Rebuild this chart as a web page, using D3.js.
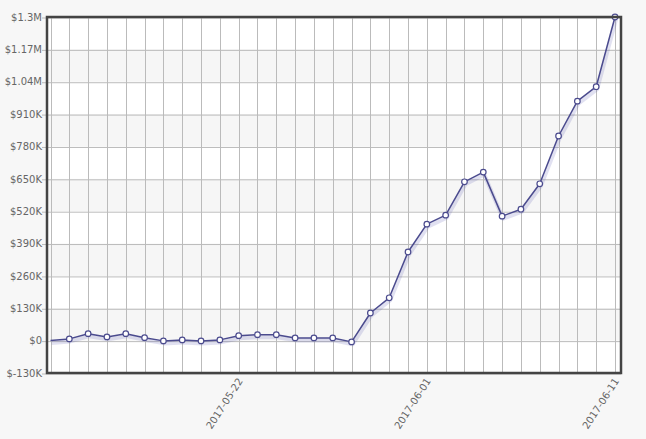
<!DOCTYPE html>
<html><head><meta charset="utf-8">
<script src="https://cdn.jsdelivr.net/npm/d3@7"></script>
<style>
html,body{margin:0;padding:0;background:#f7f7f7;}
svg{display:block;}
</style></head>
<body>
<script>
const startDate = "2017-05-12";
const values = [1000, 7000, 28000, 15000, 28000, 12000, -1000, 3000, -1000, 3000, 20000, 24000, 24000, 11000, 11000, 11000, -5000, 111000, 172000, 356000, 468000, 504000, 638000, 677000, 500000, 528000, 630000, 822000, 962000, 1020000, 1300000];
const yTicks = [-130000, 0, 130000, 260000, 390000, 520000, 650000, 780000, 910000, 1040000, 1170000, 1300000];
const yTickLabels = ["$-130K", "$0", "$130K", "$260K", "$390K", "$520K", "$650K", "$780K", "$910K", "$1.04M", "$1.17M", "$1.3M"];
const xTickLabels = ["2017-05-22", "2017-06-01", "2017-06-11"];

const W = 646, H = 439;
const plot = {left: 47, right: 621, top: 17, bottom: 373};
const parse = d3.timeParse("%Y-%m-%d");
const fmt = d3.timeFormat("%Y-%m-%d");
const t0 = parse(startDate);
const data = values.map((v, i) => ({date: d3.timeDay.offset(t0, i), v}));

const x = d3.scaleTime()
  .domain([data[0].date, data[data.length - 1].date])
  .range([plot.left + 3.5, plot.right - 6]);
const y = d3.scaleLinear()
  .domain([yTicks[0], yTicks[yTicks.length - 1]])
  .range([plot.bottom, plot.top]);

const svg = d3.select("body").append("svg").attr("width", W).attr("height", H);

svg.append("rect").attr("x", plot.left).attr("y", plot.top)
  .attr("width", plot.right - plot.left).attr("height", plot.bottom - plot.top)
  .attr("fill", "#fff");

// alternating bands
for (let i = 0; i < yTicks.length - 1; i++) {
  if (i % 2 === 1) {
    svg.append("rect").attr("x", plot.left).attr("width", plot.right - plot.left)
      .attr("y", y(yTicks[i + 1])).attr("height", y(yTicks[i]) - y(yTicks[i + 1]))
      .attr("fill", "#f6f6f6");
  }
}

// vertical grid lines
svg.append("g").selectAll("line").data(data).join("line")
  .attr("x1", d => Math.round(x(d.date)) + 0.5).attr("x2", d => Math.round(x(d.date)) + 0.5)
  .attr("y1", plot.top).attr("y2", plot.bottom)
  .attr("stroke", "#bbb").attr("stroke-width", 1);

// y axis with grid
const yAxis = d3.axisLeft(y).tickValues(yTicks)
  .tickFormat((d, i) => yTickLabels[i])
  .tickSize(-(plot.right - plot.left)).tickPadding(5).tickSizeOuter(0);
const gy = svg.append("g").attr("transform", `translate(${plot.left},0)`).call(yAxis);
gy.select(".domain").remove();
gy.selectAll(".tick line").attr("stroke", "#bbb").attr("x1", -5)
  .attr("transform", "translate(0,0.5)");
gy.selectAll(".tick text").attr("fill", "#666").attr("font-family", "DejaVu Sans, Verdana, sans-serif")
  .attr("font-size", 10).attr("x", -5);

// x axis labels
const xAxis = d3.axisBottom(x)
  .tickValues(xTickLabels.map(parse))
  .tickFormat(fmt).tickSize(0).tickPadding(0);
const gx = svg.append("g").attr("transform", `translate(0,${plot.bottom})`).call(xAxis);
gx.select(".domain").remove();
gx.selectAll(".tick text")
  .attr("fill", "#666").attr("font-family", "DejaVu Sans, Verdana, sans-serif").attr("font-size", 10)
  .attr("text-anchor", "end").attr("dy", 0).attr("y", 0)
  .attr("transform", "translate(4,8) rotate(-57)");

// line with shadow
const line = d3.line().x(d => x(d.date)).y(d => y(d.v));
svg.append("path").datum(data).attr("d", line)
  .attr("fill", "none").attr("stroke", "rgba(90,90,180,0.18)").attr("stroke-width", 4)
  .attr("transform", "translate(1,2.5)").attr("stroke-linejoin", "round");
svg.append("path").datum(data).attr("d", line)
  .attr("fill", "none").attr("stroke", "#4b4b8e").attr("stroke-width", 1.5)
  .attr("stroke-linejoin", "round");

svg.append("g").selectAll("circle").data(data.slice(1)).join("circle")
  .attr("cx", d => x(d.date)).attr("cy", d => y(d.v)).attr("r", 2.8)
  .attr("fill", "#fff").attr("stroke", "#4b4b8e").attr("stroke-width", 1.2);

// border
svg.append("rect").attr("x", plot.left).attr("y", plot.top)
  .attr("width", plot.right - plot.left).attr("height", plot.bottom - plot.top)
  .attr("fill", "none").attr("stroke", "#444").attr("stroke-width", 2.5);
</script>
</body></html>
